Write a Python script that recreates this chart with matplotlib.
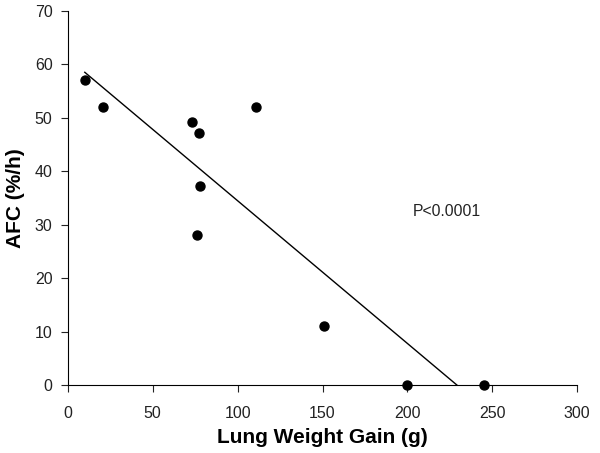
import numpy as np
import matplotlib.pyplot as plt

# Data
lung_weight_gain = [10, 21, 73, 77, 78, 76, 111, 151, 200, 245]
afc = [57, 52, 49.2, 47.2, 37.2, 28, 52, 11, 0, 0]

plt.rcParams['font.family'] = ['Liberation Sans', 'DejaVu Sans']

fig = plt.figure(figsize=(6, 4.53), dpi=100)
ax = fig.add_axes([0.113, 0.150, 0.849, 0.826])

ax.scatter(lung_weight_gain, afc, s=42, color='black', zorder=3, clip_on=False)

# least squares fit, drawn from the first point to where it reaches zero
slope, intercept = np.polyfit(lung_weight_gain, afc, 1)
x_fit = np.array([min(lung_weight_gain), -intercept / slope])
ax.plot(x_fit, slope * x_fit + intercept, color='black', lw=1)

ax.text(203, 32.4, 'P<0.0001', fontsize=11.3, va='center', ha='left', color='#222222')

ax.set_xlim(0, 300)
ax.set_ylim(0, 70)
ax.set_xticks(range(0, 301, 50))
ax.set_yticks(range(0, 71, 10))
ax.spines['top'].set_visible(False)
ax.spines['right'].set_visible(False)
ax.tick_params(direction='out', length=5, labelsize=11.5, colors='#222222')
ax.tick_params(axis='x', pad=10)
ax.tick_params(axis='y', pad=6)
ax.set_xlabel('Lung Weight Gain (g)', fontsize=15, fontweight='bold', labelpad=5)
ax.set_ylabel('AFC (%/h)', fontsize=15, fontweight='bold', labelpad=7)

plt.savefig('out.png')
